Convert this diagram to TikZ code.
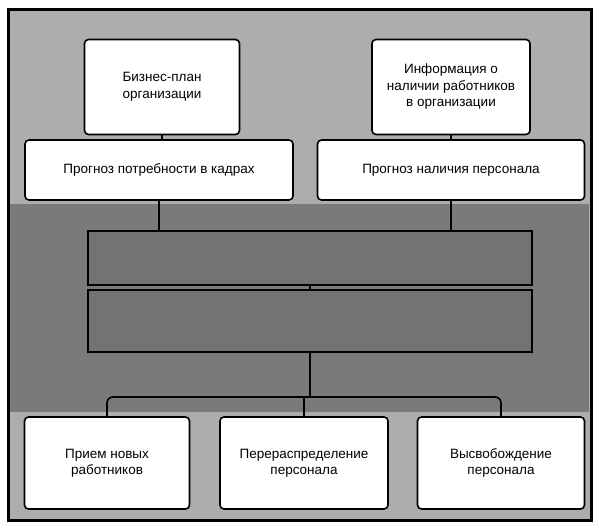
\documentclass[tikz,border=0pt]{standalone}
\usepackage{fontspec}
\setmainfont{Liberation Sans}
\begin{document}
\begin{tikzpicture}[x=1pt,y=-1pt,
  box/.style={draw=black,line width=1.6pt,fill=white,rounded corners=4pt,align=center,
    inner sep=2pt,font=\fontsize{13.5}{16.5}\selectfont},
  midbox/.style={draw=black,line width=1.6pt,fill=black!55,align=center},
  conn/.style={draw=black,line width=1.6pt}]
\useasboundingbox (0,0) rectangle (599,527);
\fill[white] (0,0) rectangle (599,527);
\draw[line width=3pt,fill=black!32] (8,10) rectangle (591,520);
\fill[black!52] (10,204) rectangle (589,412);
% top row
\node[box,minimum width=155pt,minimum height=95pt] (b1) at (162,87) {Бизнес-план\\организации};
\node[box,minimum width=158pt,minimum height=95pt] (b2) at (451,87) {Информация о\\наличии работников\\в организации};
% forecasts
\node[box,minimum width=268pt,minimum height=60pt] (p1) at (159,170) {Прогноз потребности в кадрах};
\node[box,minimum width=267pt,minimum height=60pt] (p2) at (451,170) {Прогноз наличия персонала};
% middle (illegible in the reference)
\node[midbox,minimum width=444pt,minimum height=54pt] (m1) at (310,258) {};
\node[midbox,minimum width=444pt,minimum height=62pt] (m2) at (310,321) {};
% results
\node[box,minimum width=165pt,minimum height=92pt] (r1) at (107,463) {Прием новых\\работников};
\node[box,minimum width=168pt,minimum height=92pt] (r2) at (304,463) {Перераспределение\\персонала};
\node[box,minimum width=167pt,minimum height=92pt] (r3) at (501,463) {Высвобождение\\персонала};
\coordinate (hub) at (304,397);
% connectors
\draw[conn] (b1.south) -- (b1.south |- p1.north);
\draw[conn] (b2.south) -- (b2.south |- p2.north);
\draw[conn] (p1.south) -- (p1.south |- m1.north);
\draw[conn] (p2.south) -- (p2.south |- m1.north);
\draw[conn] (m1.south) -- (m2.north);
\draw[conn] (m2.south) -- (m2.south |- hub);
\draw[conn,rounded corners=6pt] (r1.north) |- (hub) -| (r3.north);
\draw[conn] (hub) -- (r2.north);
\end{tikzpicture}
\end{document}
